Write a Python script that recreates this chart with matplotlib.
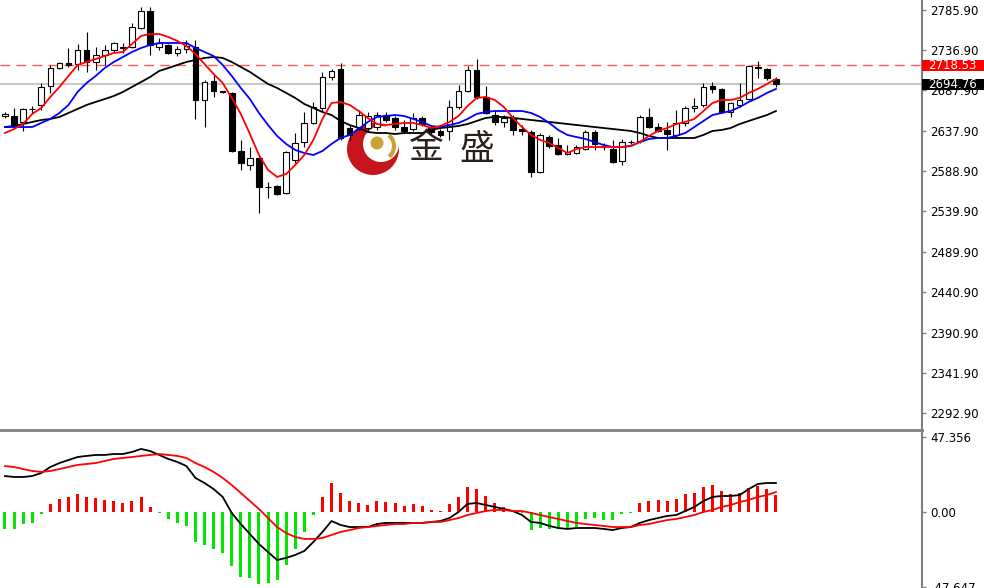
import numpy as np
import matplotlib
matplotlib.use('Agg')
import matplotlib.pyplot as plt
import matplotlib.transforms as mtransforms
from matplotlib.patches import Rectangle, Circle, Arc

# candles
opens = [2656.8, 2656.2, 2648.9, 2664.8, 2669.7, 2692.9, 2714.9, 2721.1, 2719.8, 2737.0,
         2722.3, 2730.8, 2737.0, 2739.4, 2740.6, 2763.9, 2784.7, 2740.6, 2743.1, 2733.3,
         2738.2, 2740.6, 2675.8, 2699.0, 2686.2, 2684.4, 2613.4, 2596.3, 2604.8, 2569.4,
         2570.6, 2562.0, 2602.4, 2624.4, 2647.7, 2666.0, 2703.9, 2713.7, 2641.5, 2642.7,
         2641.5, 2642.7, 2657.4, 2653.8, 2642.7, 2640.3, 2653.8, 2641.5, 2637.9, 2637.9,
         2667.2, 2686.8, 2712.5, 2679.5, 2657.4, 2648.9, 2653.8, 2640.3, 2636.6, 2587.7,
         2630.5, 2620.7, 2609.7, 2610.9, 2615.8, 2636.6, 2618.3, 2615.8, 2601.2, 2623.8,
         2625.6, 2655.0, 2642.7, 2639.1, 2633.0, 2647.7, 2666.0, 2669.7, 2692.9, 2689.3,
         2661.1, 2669.7, 2677.0, 2716.2, 2713.7, 2701.5]
highs = [2661.1, 2666.0, 2666.0, 2668.4, 2696.6, 2718.6, 2722.3, 2739.4, 2744.3, 2759.0,
         2740.6, 2743.1, 2746.8, 2745.5, 2770.0, 2789.6, 2789.6, 2751.6, 2744.3, 2741.9,
         2749.2, 2749.2, 2700.3, 2706.4, 2686.8, 2685.6, 2626.9, 2618.3, 2606.1, 2575.5,
         2571.8, 2613.4, 2635.4, 2661.1, 2673.4, 2710.1, 2713.7, 2721.1, 2645.2, 2663.6,
         2661.1, 2661.1, 2661.1, 2656.2, 2651.3, 2659.9, 2656.2, 2644.0, 2640.3, 2675.8,
         2694.1, 2717.4, 2725.9, 2692.9, 2663.6, 2657.4, 2657.4, 2645.2, 2639.1, 2635.4,
         2633.0, 2629.3, 2620.7, 2620.7, 2639.1, 2639.1, 2623.2, 2626.9, 2628.1, 2626.9,
         2657.4, 2666.0, 2647.7, 2648.9, 2663.6, 2668.4, 2678.3, 2696.6, 2697.8, 2690.5,
         2673.4, 2696.6, 2718.6, 2723.5, 2714.9, 2703.9]
lows = [2653.8, 2642.7, 2637.9, 2659.9, 2663.6, 2684.4, 2713.7, 2716.2, 2712.5, 2710.1,
        2712.5, 2718.6, 2734.5, 2733.3, 2739.4, 2762.7, 2730.8, 2737.0, 2732.1, 2729.6,
        2733.3, 2652.6, 2642.7, 2679.5, 2684.4, 2612.2, 2590.2, 2590.2, 2537.6, 2555.9,
        2559.6, 2560.8, 2598.7, 2618.3, 2646.4, 2661.1, 2700.3, 2626.9, 2626.9, 2639.1,
        2636.6, 2639.1, 2648.9, 2639.1, 2635.4, 2637.9, 2644.0, 2634.2, 2630.5, 2626.9,
        2664.8, 2685.6, 2677.0, 2658.7, 2645.2, 2642.7, 2633.0, 2633.0, 2581.6, 2586.5,
        2617.1, 2608.5, 2608.5, 2609.7, 2614.6, 2614.6, 2614.6, 2598.7, 2596.3, 2622.0,
        2623.2, 2641.5, 2636.6, 2614.6, 2630.5, 2644.0, 2661.1, 2667.2, 2684.4, 2659.9,
        2655.0, 2667.2, 2675.8, 2702.7, 2700.3, 2691.7]
closes = [2658.1, 2645.2, 2664.8, 2664.2, 2691.7, 2714.9, 2721.1, 2718.6, 2737.0, 2722.3,
          2730.8, 2737.0, 2745.5, 2740.6, 2765.1, 2784.7, 2743.1, 2745.5, 2733.3, 2738.2,
          2741.9, 2675.8, 2697.8, 2686.8, 2685.0, 2613.4, 2598.7, 2604.8, 2569.4, 2568.8,
          2560.8, 2612.2, 2623.2, 2647.7, 2667.2, 2703.9, 2711.3, 2629.3, 2633.0, 2657.4,
          2656.2, 2657.4, 2651.3, 2642.7, 2637.9, 2653.8, 2646.4, 2636.6, 2633.0, 2667.2,
          2686.8, 2712.5, 2679.5, 2659.9, 2648.9, 2653.8, 2639.1, 2637.9, 2587.7, 2633.0,
          2619.5, 2609.7, 2612.2, 2618.3, 2636.6, 2622.0, 2617.7, 2599.9, 2624.4, 2624.4,
          2655.0, 2642.7, 2637.9, 2634.2, 2647.7, 2666.0, 2668.4, 2691.7, 2689.3, 2661.1,
          2672.1, 2675.8, 2717.4, 2714.9, 2702.7, 2694.76]

# moving averages
ma_red = [2635.4, 2640.3, 2646.4, 2658.7, 2666.0, 2679.5, 2691.7, 2705.2, 2718.6, 2722.3,
          2725.9, 2729.6, 2733.3, 2734.5, 2744.3, 2754.1, 2756.5, 2756.5, 2752.9, 2748.0,
          2741.9, 2732.1, 2719.8, 2707.6, 2696.6, 2678.3, 2658.7, 2634.2, 2608.5, 2590.2,
          2581.6, 2585.3, 2596.3, 2608.5, 2626.9, 2652.6, 2672.1, 2673.4, 2669.7, 2662.3,
          2653.8, 2646.4, 2645.2, 2646.4, 2647.7, 2647.7, 2645.2, 2641.5, 2644.0, 2648.9,
          2656.2, 2668.4, 2678.3, 2679.5, 2675.8, 2667.2, 2653.8, 2642.7, 2633.0, 2626.9,
          2623.2, 2617.1, 2610.9, 2615.8, 2618.3, 2618.3, 2618.3, 2618.3, 2618.3, 2619.5,
          2624.4, 2631.8, 2637.9, 2641.5, 2646.4, 2648.9, 2652.6, 2662.3, 2672.1, 2675.8,
          2675.8, 2678.3, 2684.4, 2689.3, 2695.4, 2701.5]
ma_blue = [2642.7, 2642.7, 2642.7, 2642.7, 2647.7, 2652.6, 2659.9, 2669.7, 2685.6, 2696.6,
           2705.2, 2714.9, 2722.3, 2728.4, 2734.5, 2739.4, 2743.1, 2745.5, 2745.5, 2745.5,
           2745.5, 2739.4, 2734.5, 2729.6, 2718.6, 2705.2, 2690.5, 2677.0, 2659.9, 2645.2,
           2631.8, 2622.0, 2614.6, 2610.9, 2608.5, 2613.4, 2622.0, 2629.3, 2633.0, 2640.3,
           2648.9, 2655.0, 2656.2, 2657.4, 2656.2, 2652.6, 2648.9, 2644.0, 2642.7, 2645.2,
           2647.7, 2652.6, 2658.7, 2661.1, 2662.3, 2662.3, 2662.3, 2662.3, 2659.9, 2655.0,
           2647.7, 2639.1, 2633.0, 2630.5, 2628.1, 2624.4, 2620.7, 2618.3, 2618.3, 2619.5,
           2624.4, 2628.1, 2629.3, 2629.3, 2631.8, 2635.4, 2642.7, 2650.1, 2657.4, 2659.9,
           2662.3, 2667.2, 2673.4, 2678.3, 2684.4, 2689.3]
ma_black = [2642.7, 2644.0, 2646.4, 2648.9, 2651.3, 2652.6, 2655.0, 2659.9, 2664.8, 2669.7,
            2673.4, 2677.0, 2680.7, 2685.6, 2691.7, 2697.8, 2703.9, 2711.3, 2714.9, 2718.6,
            2722.3, 2724.7, 2727.2, 2728.4, 2727.2, 2722.3, 2716.2, 2710.1, 2702.7, 2695.4,
            2690.5, 2684.4, 2678.3, 2670.9, 2666.0, 2661.1, 2657.4, 2650.1, 2645.2, 2641.5,
            2636.6, 2635.4, 2635.4, 2634.2, 2635.4, 2635.4, 2635.4, 2639.1, 2641.5, 2642.7,
            2644.0, 2646.4, 2650.1, 2653.8, 2655.0, 2655.0, 2653.8, 2652.6, 2651.3, 2650.1,
            2648.9, 2647.7, 2646.4, 2645.2, 2644.0, 2642.7, 2641.5, 2640.3, 2639.1, 2637.9,
            2635.4, 2631.8, 2629.3, 2629.3, 2629.3, 2629.3, 2629.3, 2633.0, 2637.9, 2639.1,
            2641.5, 2646.4, 2650.1, 2653.8, 2657.4, 2662.3]

# MACD panel
hist = [-10.7, -10.7, -7.6, -6.9, -1.3, 5.0, 8.2, 9.5, 11.4, 9.7,
        8.6, 7.6, 7.0, 5.9, 7.0, 9.3, 3.4, -0.4, -4.6, -7.1,
        -8.8, -18.7, -20.8, -23.6, -25.6, -34.1, -40.8, -41.9, -45.5, -45.0,
        -42.9, -33.5, -23.6, -12.4, -1.9, 9.7, 18.1, 11.8, 7.2, 5.9,
        4.4, 6.7, 6.5, 5.9, 3.8, 5.0, 3.8, 1.3, 0.6, 5.0,
        9.7, 16.0, 14.3, 10.1, 5.5, 2.9, 1.3, -0.8, -11.4, -10.3,
        -10.9, -10.9, -10.9, -9.3, -4.6, -4.0, -5.1, -5.1, -1.5, -0.4,
        5.5, 7.2, 7.6, 7.2, 8.0, 11.2, 12.2, 16.0, 17.0, 13.5,
        11.4, 11.8, 14.9, 16.4, 14.3, 10.7]
macd_line = [22.7, 22.1, 22.1, 22.7, 24.6, 28.4, 30.9, 32.8, 34.7, 35.4,
             36.0, 36.0, 36.6, 36.6, 37.9, 39.8, 38.5, 36.0, 33.5, 31.6,
             29.0, 21.5, 18.3, 14.5, 9.5, -0.6, -7.6, -13.9, -20.2, -25.3,
             -30.3, -29.0, -27.1, -24.6, -18.9, -12.6, -5.7, -8.2, -9.5, -9.5,
             -9.5, -7.6, -6.9, -6.9, -6.9, -6.9, -6.9, -6.3, -5.7, -3.8,
             0.0, 5.1, 5.7, 4.4, 3.2, 1.9, 0.6, -1.9, -6.3, -6.9,
             -8.8, -10.1, -10.7, -10.1, -10.1, -10.1, -10.7, -11.4, -10.1, -9.5,
             -6.9, -5.1, -3.8, -2.5, -1.9, 0.6, 3.2, 6.9, 9.5, 10.1,
             10.1, 10.7, 14.5, 17.7, 18.3, 18.3]
macd_signal = [29.0, 28.4, 27.1, 25.9, 25.3, 25.9, 27.1, 28.4, 29.7, 30.3,
               30.9, 32.2, 33.5, 34.1, 34.7, 35.4, 36.0, 36.6, 36.0, 35.4,
               34.1, 30.9, 28.4, 25.3, 21.5, 17.0, 12.0, 6.9, 1.9, -3.8,
               -9.5, -13.3, -15.8, -17.0, -17.0, -16.4, -14.5, -12.6, -11.4, -10.1,
               -9.5, -8.8, -8.2, -7.6, -7.6, -6.9, -6.9, -6.3, -6.3, -5.1,
               -3.8, -1.9, -0.6, 0.6, 1.3, 1.3, 0.6, 0.6, -0.6, -1.9,
               -3.2, -4.4, -5.7, -6.9, -7.6, -8.2, -8.8, -9.5, -9.5, -9.5,
               -8.2, -7.6, -6.3, -5.1, -4.4, -3.2, -1.9, 0.0, 1.3, 3.2,
               4.4, 6.3, 7.6, 9.5, 10.7, 12.6]

price_ticks = [2785.90, 2736.90, 2687.90, 2637.90, 2588.90, 2539.90,
               2489.90, 2440.90, 2390.90, 2341.90, 2292.90]
macd_ticks = [47.356, 0.0, -47.647]
macd_tick_labels = ['47.356', '0.00', '-47.647']
ask_price = 2718.53
last_price = 2694.76

W, H = 984, 588
fig = plt.figure(figsize=(W / 100, H / 100), dpi=100)
fig.patch.set_facecolor('white')

# watermark logo, behind the price panel
lax = fig.add_axes([340 / W, 1 - 180 / H, 65 / W, 62 / H], zorder=0)
lax.set_xlim(340, 405)
lax.set_ylim(180, 118)
lax.axis('off')
lax.add_patch(Circle((373, 149), 26, fc='#c8141c', ec='none'))
lax.add_patch(Circle((381, 144), 18, fc='white', ec='none'))
lax.add_patch(Circle((377, 143), 6.5, fc='#c9a235', ec='none'))
lax.add_patch(Arc((380, 146), 28, 28, theta1=-50, theta2=50, color='#c9a235', lw=3))

ax1 = fig.add_axes([0, 158 / H, 922 / W, 430 / H], zorder=1)
ax2 = fig.add_axes([0, 0, 922 / W, 156 / H], zorder=1)
ax1.patch.set_visible(False)

x = np.arange(len(closes))
o = np.array(opens)
c = np.array(closes)
hi = np.array(highs)
lo = np.array(lows)
up = c >= o
bot = np.minimum(o, c)
bh = np.maximum(np.abs(c - o), 0.6)

ax1.vlines(x, lo, hi, color='black', lw=0.8, zorder=3)
ax1.bar(x[up], bh[up], bottom=bot[up], width=0.62, facecolor='white',
        edgecolor='black', lw=0.8, zorder=3)
ax1.bar(x[~up], bh[~up], bottom=bot[~up], width=0.62, facecolor='black',
        edgecolor='black', lw=0.8, zorder=3)

ax1.plot(x, ma_black, color='black', lw=1.3, zorder=4)
ax1.plot(x, ma_blue, color='#0000ff', lw=1.3, zorder=4)
ax1.plot(x, ma_red, color='#ff0000', lw=1.3, zorder=4)

ax1.axhline(last_price, color='#c8c8c8', lw=1.5, zorder=2)
ax1.axhline(ask_price, color='#ff5a5a', lw=1, dashes=(7, 4.5), zorder=2)

ax1.set_xlim(-0.55, 101.1)
ax1.set_ylim(2272.1, 2798.1)
ax1.set_xticks([])
ax1.yaxis.tick_right()
ax1.set_yticks(price_ticks)
ax1.set_yticklabels([f'{t:.2f}' for t in price_ticks])

trans = mtransforms.blended_transform_factory(ax1.transAxes, ax1.transData)
for val, col in [(ask_price, '#ff0000'), (last_price, 'black')]:
    ax1.add_patch(Rectangle((1.0, val - 6.7), 62 / 922, 13.4, transform=trans,
                            fc=col, ec='none', clip_on=False, zorder=6))
    ax1.text(1.0 + 6 / 922, val, f'{val:.2f}', transform=trans, color='white',
             fontsize=8.5, va='center', ha='left', zorder=7, clip_on=False)

# MACD
hcol = ['#ff0000' if v >= 0 else '#00e600' for v in hist]
ax2.bar(x, hist, width=0.33, color=hcol, zorder=2)
ax2.plot(x, macd_line, color='black', lw=1.3, zorder=3)
ax2.plot(x, macd_signal, color='#ff0000', lw=1.3, zorder=3)
ax2.set_xlim(-0.55, 101.1)
ax2.set_ylim(-47.98, 50.5)
ax2.set_xticks([])
ax2.yaxis.tick_right()
ax2.set_yticks(macd_ticks)
ax2.set_yticklabels(macd_tick_labels)

for ax in (ax1, ax2):
    for s in ('left', 'top', 'bottom'):
        ax.spines[s].set_visible(False)
    ax.spines['right'].set_color('#808080')
    ax.spines['right'].set_linewidth(1.5)
    ax.tick_params(axis='y', length=3, width=1, color='#808080', pad=3,
                   labelsize=8.5, labelcolor='black')
ax1.spines['bottom'].set_visible(True)
ax1.spines['bottom'].set_color('#808080')
ax1.spines['bottom'].set_linewidth(2)

fig.text(426 / W, 1 - 149 / H, '金', fontsize=25, family=['Noto Sans CJK SC'],
         color='#2a201c', ha='center', va='center')
fig.text(477 / W, 1 - 149 / H, '盛', fontsize=25, family=['Noto Sans CJK SC'],
         color='#2a201c', ha='center', va='center')

fig.savefig('out.png', dpi=100)
